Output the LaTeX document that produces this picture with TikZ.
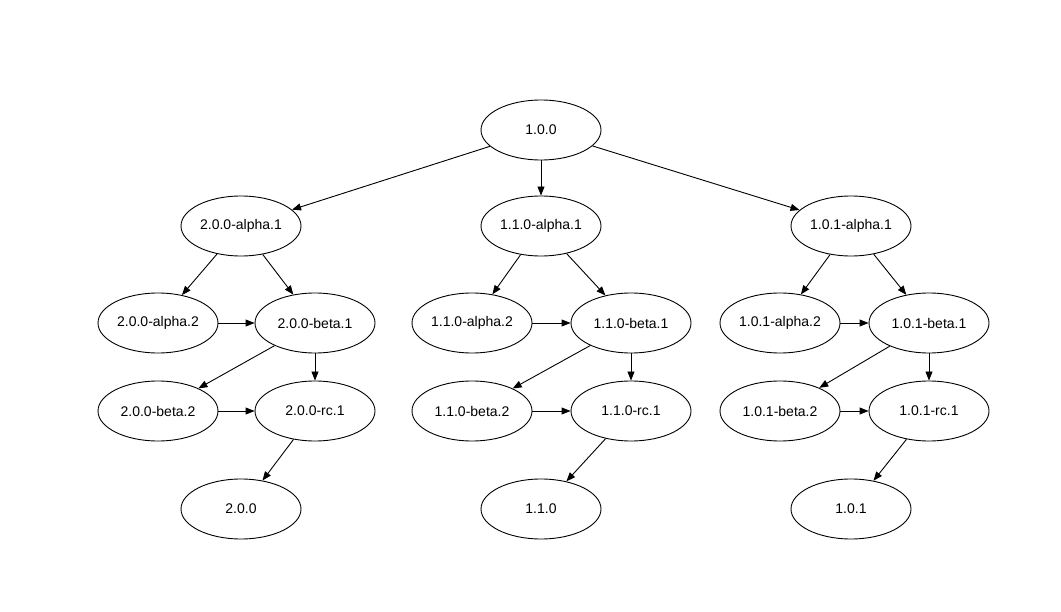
\documentclass[tikz,border=0pt]{standalone}
\usepackage{fontspec}
\setmainfont{Liberation Sans}
\usetikzlibrary{shapes.geometric,arrows.meta}
\begin{document}
\begin{tikzpicture}[x=1pt,y=-1pt,
  ver/.style={draw,ellipse,line width=0.9pt,minimum width=120pt,minimum height=60pt,inner sep=0pt,font=\fontsize{14}{16}\selectfont},
  edge/.style={line width=0.9pt,-{Triangle[length=9pt,width=7pt]}}]
\useasboundingbox (0,0) rectangle (1061,612);
\node[ver] (r) at (541,130) {1.0.0};
% 2.0.0 branch
\node[ver] (a1) at (241,226) {2.0.0-alpha.1};
\node[ver] (a2) at (158,323) {2.0.0-alpha.2};
\node[ver] (b1) at (315,323) {2.0.0-beta.1};
\node[ver] (b2) at (158,411) {2.0.0-beta.2};
\node[ver] (c1) at (315,411) {2.0.0-rc.1};
\node[ver] (f) at (241,509) {2.0.0};
% 1.1.0 branch
\node[ver] (ma1) at (541,226) {1.1.0-alpha.1};
\node[ver] (ma2) at (472,323) {1.1.0-alpha.2};
\node[ver] (mb1) at (631,323) {1.1.0-beta.1};
\node[ver] (mb2) at (472,411) {1.1.0-beta.2};
\node[ver] (mc1) at (631,411) {1.1.0-rc.1};
\node[ver] (mf) at (541,509) {1.1.0};
% 1.0.1 branch
\node[ver] (pa1) at (851,226) {1.0.1-alpha.1};
\node[ver] (pa2) at (780,323) {1.0.1-alpha.2};
\node[ver] (pb1) at (929,323) {1.0.1-beta.1};
\node[ver] (pb2) at (780,411) {1.0.1-beta.2};
\node[ver] (pc1) at (929,411) {1.0.1-rc.1};
\node[ver] (pf) at (851,509) {1.0.1};
\draw[edge] (r) -- (a1);
\draw[edge] (r) -- (ma1);
\draw[edge] (r) -- (pa1);
\foreach \p in {,m,p}{
  \draw[edge] (\p a1) -- (\p a2);
  \draw[edge] (\p a1) -- (\p b1);
  \draw[edge] (\p a2) -- (\p b1);
  \draw[edge] (\p b1) -- (\p b2);
  \draw[edge] (\p b1) -- (\p c1);
  \draw[edge] (\p b2) -- (\p c1);
  \draw[edge] (\p c1) -- (\p f);
}
\end{tikzpicture}
\end{document}
